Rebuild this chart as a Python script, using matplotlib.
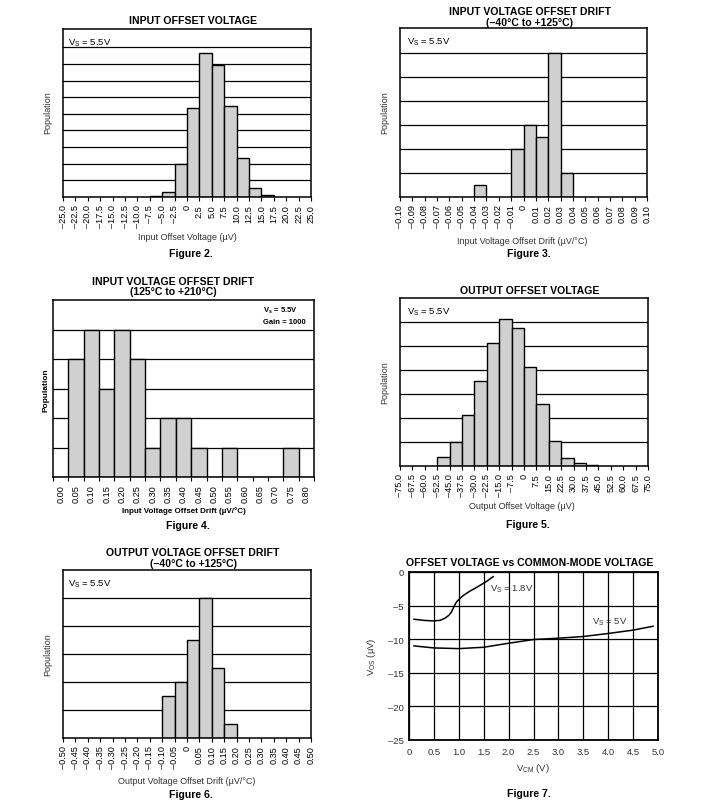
import matplotlib
matplotlib.use('Agg')
import matplotlib.pyplot as plt

plt.rcParams['font.family'] = ['Liberation Sans', 'DejaVu Sans']
plt.rcParams['mathtext.fontset'] = 'custom'
plt.rcParams['mathtext.rm'] = 'Liberation Sans'
plt.rcParams['mathtext.bf'] = 'Liberation Sans:bold'

# Figure 2 - input offset voltage histogram
f2_left = [-7.5, -5.0, -2.5, 0.0, 2.5, 5.0, 7.5, 10.0, 12.5, 15.0]
f2_count = [0.06, 0.3, 1.96, 5.38, 8.68, 7.96, 5.5, 2.32, 0.52, 0.1]
f2_ticks = [-25.0, -22.5, -20.0, -17.5, -15.0, -12.5, -10.0, -7.5, -5.0, -2.5, 0.0,
            2.5, 5.0, 7.5, 10.0, 12.5, 15.0, 17.5, 20.0, 22.5, 25.0]
f2_labels = ['–25.0', '–22.5', '–20.0', '–17.5', '–15.0', '–12.5', '–10.0', '–7.5', '–5.0', '–2.5', '0',
             '2.5', '5.0', '7.5', '10.0', '12.5', '15.0', '17.5', '20.0', '22.5', '25.0']

# Figure 3 - input drift (-40 to 125C)
f3_left = [-0.04, -0.01, 0.00, 0.01, 0.02, 0.03]
f3_count = [0.5, 2.0, 3.0, 2.5, 6.0, 1.0]
f3_ticks = [-0.10, -0.09, -0.08, -0.07, -0.06, -0.05, -0.04, -0.03, -0.02, -0.01, 0.0,
            0.01, 0.02, 0.03, 0.04, 0.05, 0.06, 0.07, 0.08, 0.09, 0.10]
f3_labels = ['–0.10', '–0.09', '–0.08', '–0.07', '–0.06', '–0.05', '–0.04', '–0.03', '–0.02', '–0.01', '0',
             '0.01', '0.02', '0.03', '0.04', '0.05', '0.06', '0.07', '0.08', '0.09', '0.10']

# Figure 4 - input drift (125 to 210C), category bins
f4_bins = ['0.00', '0.05', '0.10', '0.15', '0.20', '0.25', '0.30', '0.35', '0.40',
           '0.45', '0.50', '0.55', '0.60', '0.65', '0.70', '0.75', '0.80']
f4_count = [0, 4, 5, 3, 5, 4, 1, 2, 2, 1, 0, 1, 0, 0, 0, 1, 0]

# Figure 5 - output offset voltage
f5_left = [-52.5, -45.0, -37.5, -30.0, -22.5, -15.0, -7.5, 0.0, 7.5, 15.0, 22.5, 30.0, 37.5]
f5_count = [0.39, 0.99, 2.14, 3.53, 5.11, 6.14, 5.74, 4.11, 2.6, 1.06, 0.33, 0.11, 0.04]
f5_ticks = [-75.0, -67.5, -60.0, -52.5, -45.0, -37.5, -30.0, -22.5, -15.0, -7.5, 0.0,
            7.5, 15.0, 22.5, 30.0, 37.5, 45.0, 52.5, 60.0, 67.5, 75.0]
f5_labels = ['–75.0', '–67.5', '–60.0', '–52.5', '–45.0', '–37.5', '–30.0', '–22.5', '–15.0', '–7.5', '0',
             '7.5', '15.0', '22.5', '30.0', '37.5', '45.0', '52.5', '60.0', '67.5', '75.0']

# Figure 6 - output drift
f6_left = [-0.10, -0.05, 0.00, 0.05, 0.10, 0.15]
f6_count = [1.5, 2.0, 3.5, 5.0, 2.5, 0.5]
f6_ticks = [-0.50, -0.45, -0.40, -0.35, -0.30, -0.25, -0.20, -0.15, -0.10, -0.05, 0.0,
            0.05, 0.10, 0.15, 0.20, 0.25, 0.30, 0.35, 0.40, 0.45, 0.50]
f6_labels = ['–0.50', '–0.45', '–0.40', '–0.35', '–0.30', '–0.25', '–0.20', '–0.15', '–0.10', '–0.05', '0',
             '0.05', '0.10', '0.15', '0.20', '0.25', '0.30', '0.35', '0.40', '0.45', '0.50']

# Figure 7 - offset vs common mode
vs18_x = [0.1, 0.3, 0.48, 0.62, 0.72, 0.8, 0.85, 0.9, 0.95, 1.02, 1.09, 1.2, 1.36, 1.56, 1.69]
vs18_y = [-7.03, -7.2, -7.28, -7.2, -6.88, -6.45, -5.99, -5.2, -4.5, -3.95, -3.5, -2.95, -2.28, -1.39, -0.69]
vs5_x = [0.1, 0.5, 1.0, 1.5, 2.0, 2.5, 3.0, 3.5, 4.0, 4.5, 4.9]
vs5_y = [-11.0, -11.3, -11.4, -11.2, -10.6, -10.05, -9.85, -9.6, -9.15, -8.65, -8.07]

W, H = 707, 812
fig = plt.figure(figsize=(W / 100, H / 100), dpi=100)
fig.set_facecolor('white')

bar_fill = '#d0d0d0'
txt = '#333333'


def box(l, t, r, b):
    return [l / W, 1 - b / H, (r - l) / W, (b - t) / H]


def ftext(x, y, s, **kw):
    fig.text(x / W, 1 - y / H, s, ha='center', va='center', **kw)


def hist_panel(rect, left, counts, width, ticks, labels, ytop, ngrid):
    ax = fig.add_axes(rect)
    for g in range(1, ngrid + 1):
        ax.axhline(g, color='black', lw=0.9, zorder=1)
    ax.bar(left, counts, width=width, align='edge', color=bar_fill,
           edgecolor='black', linewidth=1.0, zorder=2)
    ax.set_xlim(ticks[0], ticks[-1])
    ax.set_ylim(0, ytop)
    ax.set_xticks(ticks)
    ax.set_xticklabels(labels, rotation=90, fontsize=6.6)
    ax.set_yticks([])
    ax.tick_params(axis='x', direction='out', length=3, width=0.8, pad=2)
    for s in ax.spines.values():
        s.set_linewidth(1.1)
    return ax


vs_label = 'V$_\\mathrm{S}$ = 5.5V'

# Figure 2
ax1 = hist_panel(box(63, 30, 311, 198), f2_left, f2_count, 2.5, f2_ticks, f2_labels, 10.1, 9)
ax1.text(0.02, 0.955, vs_label, transform=ax1.transAxes, fontsize=6.8, va='top')
ftext(193, 21, 'INPUT OFFSET VOLTAGE', fontsize=7.6, fontweight='bold')
ftext(187, 238, 'Input Offset Voltage (µV)', fontsize=6.5, color=txt)
ftext(48, 113, 'Population', fontsize=6.5, color=txt, rotation=90)
ftext(191, 254, 'Figure 2.', fontsize=7.6, fontweight='bold')

# Figure 3
ax2 = hist_panel(box(400, 29, 647, 198), f3_left, f3_count, 0.01, f3_ticks, f3_labels, 7.03, 6)
ax2.text(0.03, 0.955, vs_label, transform=ax2.transAxes, fontsize=6.8, va='top')
ftext(530, 12, 'INPUT VOLTAGE OFFSET DRIFT', fontsize=7.6, fontweight='bold')
ftext(530, 23, '(–40°C to +125°C)', fontsize=7.6, fontweight='bold')
ftext(522, 241, 'Input Voltage Offset Drift (µV/°C)', fontsize=6.5, color=txt)
ftext(385, 113, 'Population', fontsize=6.5, color=txt, rotation=90)
ftext(529, 254, 'Figure 3.', fontsize=7.6, fontweight='bold')

# Figure 4
ax3 = fig.add_axes(box(53, 301, 314, 478))
for g in range(1, 6):
    ax3.axhline(g, color='black', lw=0.9, zorder=1)
ax3.bar(range(len(f4_bins)), f4_count, width=1, align='edge', color=bar_fill,
        edgecolor='black', linewidth=1.0, zorder=2)
ax3.set_xlim(0, len(f4_bins))
ax3.set_ylim(0, 6)
ax3.set_xticks(range(len(f4_bins) + 1))
ax3.set_xticklabels([])
ax3.set_xticks([i + 0.5 for i in range(len(f4_bins))], minor=True)
ax3.set_xticklabels(f4_bins, minor=True, rotation=90, fontsize=6.6)
ax3.set_yticks([])
ax3.tick_params(axis='x', which='major', direction='out', length=3, width=0.8)
ax3.tick_params(axis='x', which='minor', length=0, pad=5)
for s in ax3.spines.values():
    s.set_linewidth(1.1)
ax3.text(13.7, 5.68, 'V$_\\mathbf{s}$ = 5.5V', fontsize=5.5, fontweight='bold', va='center')
ax3.text(13.65, 5.26, 'Gain = 1000', fontsize=5.5, fontweight='bold', va='center')
ftext(173, 282, 'INPUT VOLTAGE OFFSET DRIFT', fontsize=7.6, fontweight='bold')
ftext(173, 292, '(125°C to +210°C)', fontsize=7.6, fontweight='bold')
ftext(184, 511, 'Input Voltage Offset Drift (µV/°C)', fontsize=5.8, fontweight='bold')
ftext(46, 390, 'Population', fontsize=6.0, fontweight='bold', rotation=90)
ftext(188, 526, 'Figure 4.', fontsize=7.6, fontweight='bold')

# Figure 5
ax4 = hist_panel(box(400, 299, 648, 467), f5_left, f5_count, 7.5, f5_ticks, f5_labels, 7.0, 6)
ax4.text(0.03, 0.955, vs_label, transform=ax4.transAxes, fontsize=6.8, va='top')
ftext(530, 291, 'OUTPUT OFFSET VOLTAGE', fontsize=7.6, fontweight='bold')
ftext(522, 507, 'Output Offset Voltage (µV)', fontsize=6.5, color=txt)
ftext(385, 383, 'Population', fontsize=6.5, color=txt, rotation=90)
ftext(528, 525, 'Figure 5.', fontsize=7.6, fontweight='bold')

# Figure 6
ax5 = hist_panel(box(63, 571, 311, 739), f6_left, f6_count, 0.05, f6_ticks, f6_labels, 6.0, 5)
ax5.text(0.02, 0.955, vs_label, transform=ax5.transAxes, fontsize=6.8, va='top')
ftext(193, 553, 'OUTPUT VOLTAGE OFFSET DRIFT', fontsize=7.6, fontweight='bold')
ftext(193, 564, '(–40°C to +125°C)', fontsize=7.6, fontweight='bold')
ftext(187, 782, 'Output Voltage Offset Drift (µV/°C)', fontsize=6.5, color=txt)
ftext(48, 655, 'Population', fontsize=6.5, color=txt, rotation=90)
ftext(191, 795, 'Figure 6.', fontsize=7.6, fontweight='bold')

# Figure 7
ax6 = fig.add_axes(box(409, 573, 658, 741))
ax6.plot(vs18_x, vs18_y, color='black', lw=1.1, zorder=3)
ax6.plot(vs5_x, vs5_y, color='black', lw=1.1, zorder=3)
ax6.set_xlim(0, 5)
ax6.set_ylim(-25, 0)
ax6.set_xticks([0, 0.5, 1.0, 1.5, 2.0, 2.5, 3.0, 3.5, 4.0, 4.5, 5.0])
ax6.set_xticklabels(['0', '0.5', '1.0', '1.5', '2.0', '2.5', '3.0', '3.5', '4.0', '4.5', '5.0'],
                    fontsize=6.8, color=txt)
ax6.set_yticks([0, -5, -10, -15, -20, -25])
ax6.set_yticklabels(['0', '–5', '–10', '–15', '–20', '–25'], fontsize=6.8, color=txt)
ax6.tick_params(axis='x', length=0, pad=5)
ax6.tick_params(axis='y', length=0, pad=4)
ax6.grid(True, color='black', lw=0.9)
for s in ax6.spines.values():
    s.set_linewidth(1.3)
ax6.text(1.62, -2.4, 'V$_\\mathrm{S}$ = 1.8V', fontsize=6.8, va='center', color=txt)
ax6.text(3.67, -7.4, 'V$_\\mathrm{S}$ = 5V', fontsize=6.8, va='center', color=txt)
ax6.set_ylabel('V$_\\mathrm{OS}$ (µV)', fontsize=6.8, color=txt, labelpad=7)
ftext(530, 563, 'OFFSET VOLTAGE vs COMMON-MODE VOLTAGE', fontsize=7.6, fontweight='bold')
ftext(533, 769, 'V$_\\mathrm{CM}$ (V)', fontsize=6.8, color=txt)
ftext(529, 794, 'Figure 7.', fontsize=7.6, fontweight='bold')

fig.savefig('out.png', dpi=100)
